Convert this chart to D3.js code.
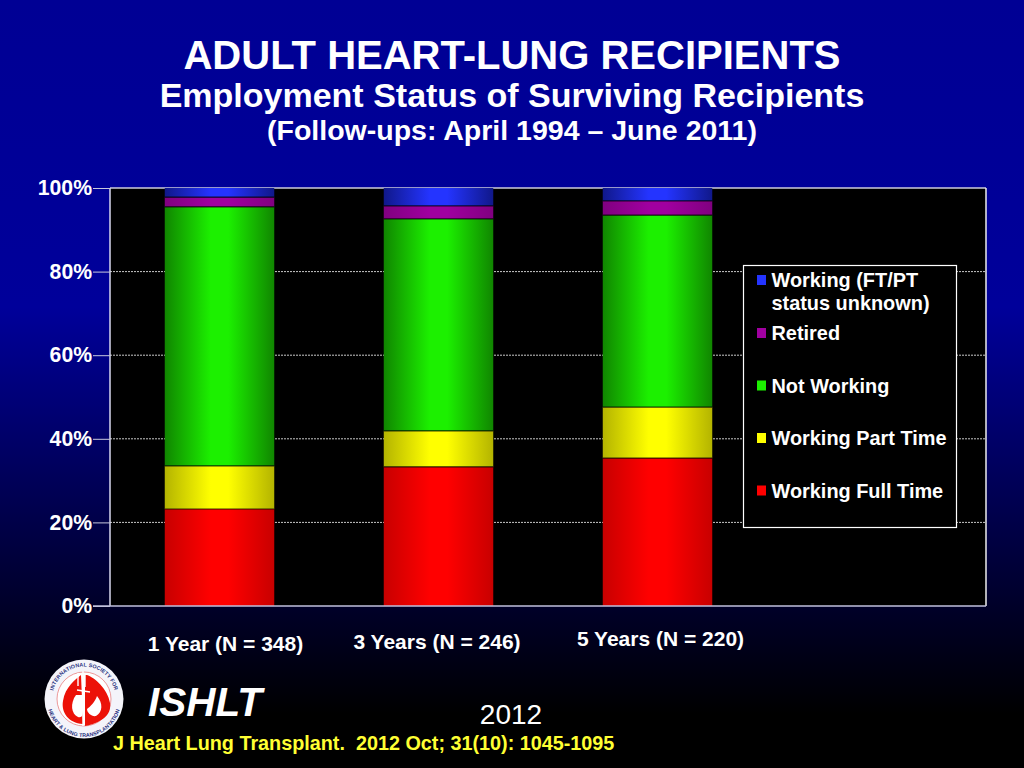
<!DOCTYPE html>
<html><head><meta charset="utf-8">
<script src="https://cdnjs.cloudflare.com/ajax/libs/d3/7.8.5/d3.min.js"></script>
<style>html,body{margin:0;padding:0;background:#000;overflow:hidden}svg{display:block}text{font-family:"Liberation Sans",Arial,sans-serif;white-space:pre}</style>
</head><body><svg id="c" width="1024" height="768"></svg>
<script>
const categories=["1 Year (N = 348)","3 Years (N = 246)","5 Years (N = 220)",""];
const fullTime=[23.2,33.3,35.4];
const partTime=[10.3,8.6,12.2];
const notWorking=[62.0,50.7,45.9];
const retired=[2.3,3.1,3.4];
const unknown=[2.2,4.3,3.1];
const seriesNames=["Working Full Time","Working Part Time","Not Working","Retired","Working (FT/PT status unknown)"];
const yTicks=[0,20,40,60,80,100];

const svg=d3.select("#c");
const defs=svg.append("defs");
const bg=defs.append("linearGradient").attr("id","bg").attr("x1",0).attr("x2",0).attr("y1",0).attr("y2",1);
[[0,"#000094"],[0.4,"#00009a"],[0.93,"#000000"],[1,"#000000"]].forEach(s=>bg.append("stop").attr("offset",s[0]).attr("stop-color",s[1]));
svg.append("rect").attr("width",1024).attr("height",768).attr("fill","url(#bg)");

const colors=["#ff0000","#ffff00","#1cf000","#a000a0","#2434ff"];
const darks=["#c80000","#b4b400","#108600","#800080","#10188a"];
colors.forEach((c,i)=>{
  const g=defs.append("linearGradient").attr("id","g"+i);
  [[0,darks[i]],[0.42,c],[0.58,c],[1,darks[i]]].forEach(s=>g.append("stop").attr("offset",s[0]).attr("stop-color",s[1]));
});

const x=d3.scaleBand().domain(categories).range([110,986]).paddingInner(0.5).paddingOuter(0.25);
const y=d3.scaleLinear().domain([0,100]).range([606,188]);

svg.append("rect").attr("x",110).attr("y",188).attr("width",876).attr("height",418).attr("fill","#000");
svg.append("g").selectAll("line").data(yTicks.slice(1,5)).join("line")
  .attr("x1",110).attr("x2",986).attr("y1",d=>y(d)).attr("y2",d=>y(d))
  .attr("stroke","#c8c8c8").attr("stroke-width",1).attr("stroke-dasharray","2 1");
svg.append("line").attr("x1",110).attr("x2",986).attr("y1",188).attr("y2",188).attr("stroke","#ccccdd").attr("stroke-width",1.5);
svg.append("line").attr("x1",986).attr("x2",986).attr("y1",188).attr("y2",606).attr("stroke","#eee").attr("stroke-width",1.5);

const rows=categories.slice(0,3).map((c,i)=>({cat:c,v:[fullTime[i],partTime[i],notWorking[i],retired[i],unknown[i]]}));
const stacked=d3.stack().keys([0,1,2,3,4]).value((d,k)=>d.v[k])(rows);
svg.append("g").selectAll("g").data(stacked).join("g").attr("fill",(d,i)=>`url(#g${i})`)
  .selectAll("rect").data(d=>d).join("rect")
  .attr("x",d=>x(d.data.cat)).attr("width",x.bandwidth())
  .attr("y",d=>y(d[1])).attr("height",d=>y(d[0])-y(d[1]));
svg.append("g").selectAll("g").data(stacked.slice(0,4)).join("g").selectAll("line").data(d=>d).join("line")
  .attr("x1",d=>x(d.data.cat)).attr("x2",d=>x(d.data.cat)+x.bandwidth())
  .attr("y1",d=>y(d[1])).attr("y2",d=>y(d[1])).attr("stroke","#000").attr("stroke-opacity",0.75).attr("stroke-width",1.2);

const yAxis=d3.axisLeft(y).tickValues(yTicks).tickFormat(d=>d+"%").tickSize(17).tickPadding(1);
const ay=svg.append("g").attr("transform","translate(110,0)").call(yAxis);
ay.select(".domain").attr("stroke","#d8d8ee").attr("stroke-width",1.5).attr("d","M0,188V606");
ay.selectAll(".tick line").attr("stroke","#c8c8dd");
ay.selectAll(".tick text").attr("fill","#fff").attr("font-size",21.2).attr("font-weight","bold").attr("font-family",'"Liberation Sans"');
svg.append("line").attr("x1",93).attr("x2",986).attr("y1",606).attr("y2",606).attr("stroke","#c0c0dd").attr("stroke-width",1.5);

const labelY=[651,649,646];
svg.append("g").selectAll("text").data(categories.slice(0,3)).join("text")
  .attr("x",(d,i)=>[225.5,437,660.5][i]).attr("y",(d,i)=>labelY[i])
  .attr("text-anchor","middle").attr("fill","#fff").attr("font-size",21).attr("font-weight","bold").text(d=>d);

// legend
svg.append("rect").attr("x",743.5).attr("y",265.5).attr("width",213).attr("height",262).attr("fill","#000").attr("stroke","#fff").attr("stroke-width",1.2);
const legend=[
 {i:4,ys:280,lines:["Working (FT/PT","status unknown)"],ty:[287,310]},
 {i:3,ys:333,lines:["Retired"],ty:[340]},
 {i:2,ys:385.5,lines:["Not Working"],ty:[392.5]},
 {i:1,ys:438,lines:["Working Part Time"],ty:[445]},
 {i:0,ys:490.5,lines:["Working Full Time"],ty:[497.5]}];
const lg=svg.append("g");
legend.forEach(l=>{
  lg.append("rect").attr("x",757).attr("y",l.ys-5).attr("width",9).attr("height",10).attr("fill",colors[l.i]);
  l.lines.forEach((t,j)=>lg.append("text").attr("x",771.5).attr("y",l.ty[j]).attr("fill","#fff").attr("font-size",19.9).attr("font-weight","bold").text(t));
});

// titles
const title=(t,yy,fs,fill="#fff",xx=512,anc="middle",w="bold",st="normal")=>svg.append("text").attr("x",xx).attr("y",yy).attr("text-anchor",anc).attr("fill",fill).attr("font-size",fs).attr("font-weight",w).attr("font-style",st).text(t);
title("ADULT HEART-LUNG RECIPIENTS",69,40);
title("Employment Status of Surviving Recipients",107,34);
title("(Follow-ups: April 1994 – June 2011)",140,28.5);
title("ISHLT",716,40.5,"#fff",148,"start","bold","italic");
title("2012",724,28,"#fff",511,"middle","normal");
title("J Heart Lung Transplant.  2012 Oct; 31(10): 1045-1095",749.5,19.8,"#ffff33",113,"start");

// logo
const lo=svg.append("g").attr("transform","translate(84,699)");
lo.append("circle").attr("r",39.5).attr("fill","#f4f4fa");
lo.append("circle").attr("cx",0).attr("r",27).attr("fill","#fff").attr("stroke","#e88080").attr("stroke-width",0.8);
defs.append("path").attr("id","ringT").attr("d","M-31.5,-1A31.5,31.5 0 0 1 31.5,-1");
defs.append("path").attr("id","ringB").attr("d","M-37,1A37,37 0 0 0 37,1");
const ringText=(href,t,ls,fs)=>lo.append("text").attr("font-size",fs).attr("font-weight","bold").attr("fill","#26307e").attr("letter-spacing",ls).append("textPath").attr("href",href).attr("startOffset","50%").attr("text-anchor","middle").text(t);
ringText("#ringT","INTERNATIONAL SOCIETY FOR",0.15,5.3);
ringText("#ringB","HEART & LUNG TRANSPLANTATION",0.1,5.3);
lo.append("path").attr("fill","#ec1208").attr("d","M-3,-24C-8,-20 -19,-12 -21,2C-23,13 -16,24 -1,25V-4L-8,-4C-12,2 -12,12 -7,17C-4,19 -1,18 -1,14V25Z");
lo.append("path").attr("fill","#ec1208").attr("d","M3,-24C10,-22 24,-10 26,4C28,17 16,24 1,27V-24Z");
lo.append("path").attr("fill","#fff").attr("d","M-8,-4C-14,4 -13,15 -6,18C-2,19 -1,16 -1,12V-4Z");
lo.append("path").attr("fill","#fff").attr("d","M13,-3C19,4 19,13 12,17C8,18 3,14 3,10C6,8 11,3 13,-3Z");
lo.append("path").attr("fill","none").attr("stroke","#fff").attr("stroke-width",1.4).attr("d","M-1,-28V27M-7,-9L6,-7M-6,-26V-13M1,-26V-12");
</script></body></html>
